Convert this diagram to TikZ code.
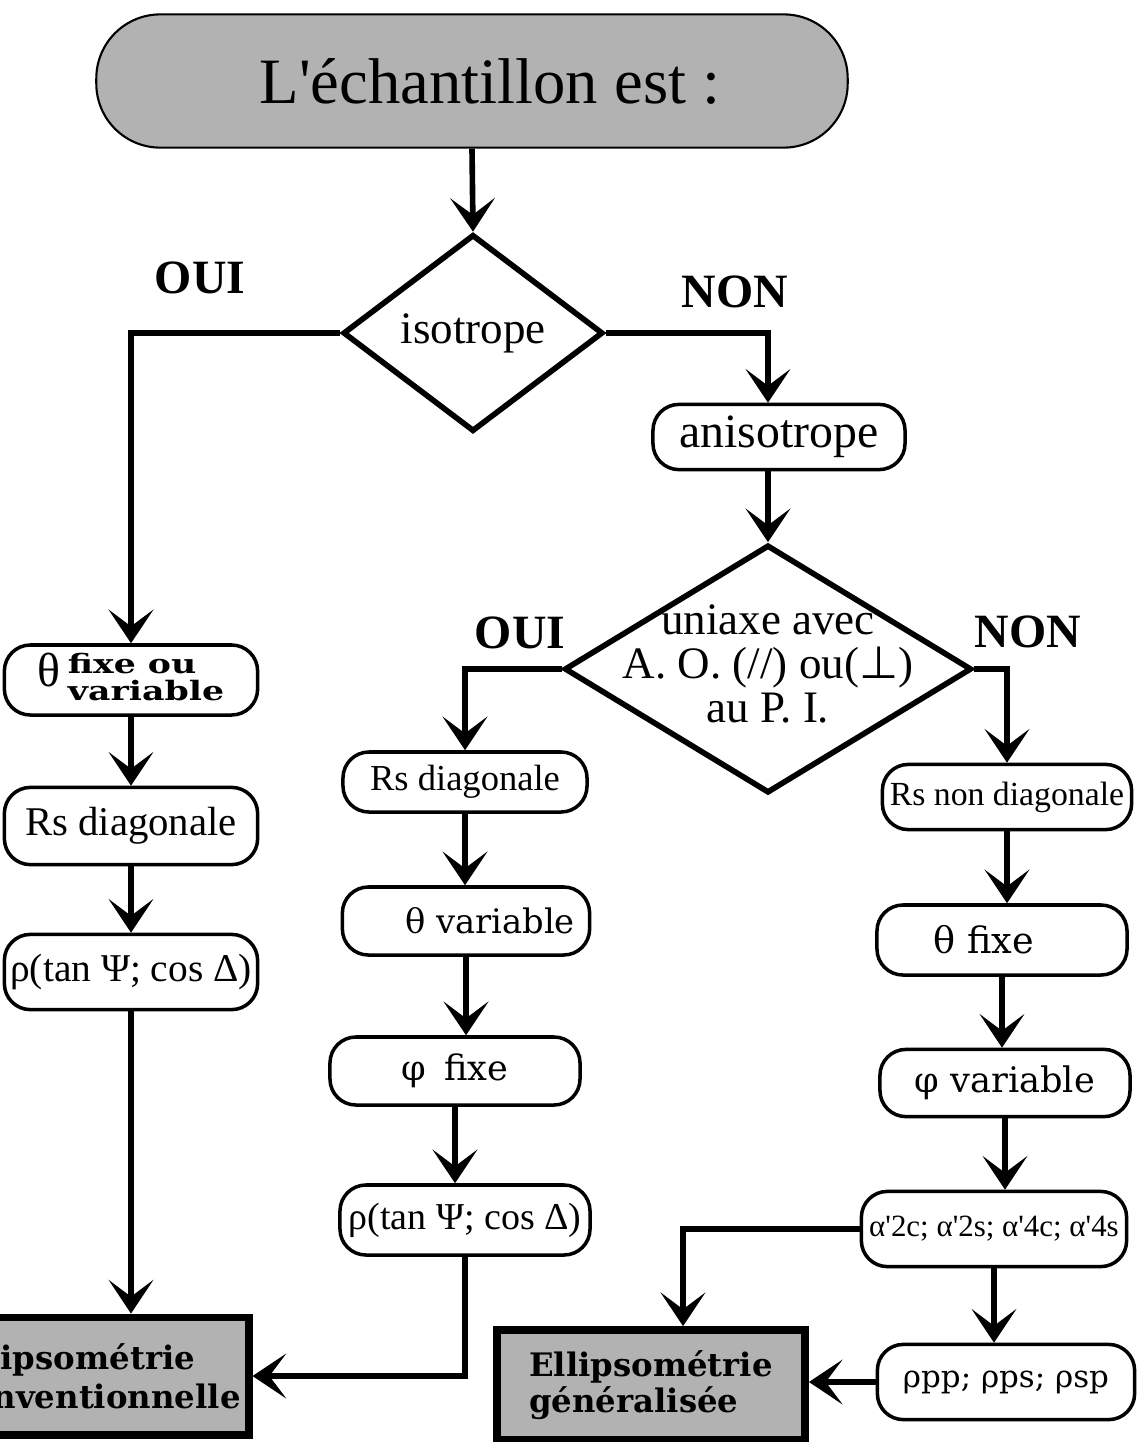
\documentclass[tikz,border=0pt]{standalone}
\usepackage{fontspec}
\setmainfont{Liberation Serif}[Ligatures=TeXOff]
\newfontfamily\bookfont{DejaVu Serif}
\newfontfamily\widefont[FakeStretch=1.3]{DejaVu Serif}
\newfontfamily\symfont{DejaVu Sans}
\usetikzlibrary{arrows.meta,shapes.geometric}

\begin{document}
\begin{tikzpicture}[x=0.025cm, y=-0.025cm,
  box/.style={draw, line width=2.5pt, rounded corners=0.65cm, align=center, inner sep=0pt},
  decision/.style={draw, diamond, line width=4pt, align=center, inner sep=0pt},
  result/.style={draw, line width=5.5pt, fill=black!30, align=left, inner sep=0pt},
  answer/.style={font=\fontsize{34}{36}\selectfont\bfseries},
  flow/.style={line width=4pt, -{Stealth[length=24pt, width=32pt, inset=12pt, line width=1pt]}}]
\useasboundingbox (0,0) rectangle (1137,1442);
\clip (0,0) rectangle (1137,1442);

% Start
\node[draw, line width=1.5pt, fill=black!30, rounded corners=1.6cm, minimum width=18.78cm, minimum height=3.33cm,
  font=\fontsize{46}{50}\selectfont] (ech) at (472,81) {\hspace*{0.9cm}L'échantillon est :};

% First test
\node[decision, minimum width=6.5cm, minimum height=4.925cm, font=\fontsize{32}{34}\selectfont] (iso) at (473,333) {isotrope};
\node[answer] (oui1) at (200,278) {OUI};
\node[answer] (non1) at (735,292) {NON};
\node[box, minimum width=6.3cm, minimum height=1.63cm, font=\fontsize{34}{36}\selectfont] (aniso) at (779,437) {anisotrope};

% Second test
\node[decision, minimum width=10.18cm, minimum height=6.2cm] (uni) at (768,669) {};
\node[align=center, inner sep=0pt, font=\fontsize{32}{31}\selectfont] (unitxt) at (768,664)
  {uniaxe avec\\A. O. (//) ou({\symfont ⊥})\\au P. I.};
\node[answer] (oui2) at (520,633) {OUI};
\node[answer] (non2) at (1028,632) {NON};

% Isotropic branch
\node[box, minimum width=6.33cm, minimum height=1.75cm] (thetaL) at (131,680)
  {{\fontsize{34}{36}\selectfont θ}\enspace{\widefont\bfseries\fontsize{19}{16}\selectfont\begin{tabular}{@{}l@{}}fixe ou\\variable\end{tabular}}};
\node[box, minimum width=6.33cm, minimum height=1.93cm, font=\fontsize{29}{30}\selectfont] (rsL) at (131,826) {Rs diagonale};
\node[box, minimum width=6.33cm, minimum height=1.88cm, font=\fontsize{28}{30}\selectfont] (rhoL) at (131,972) {ρ(tan Ψ; cos Δ)};
\node[result, minimum width=7.63cm, minimum height=2.93cm, font=\bookfont\bfseries\fontsize{23}{28}\selectfont] (conv) at (96,1376)
  {Ellipsométrie\\conventionnelle};

% Uniaxial branch
\node[box, minimum width=6.1cm, minimum height=1.5cm, font=\fontsize{26}{28}\selectfont] (rsM) at (465,782) {Rs diagonale};
\node[box, minimum width=6.18cm, minimum height=1.7cm, font=\bookfont\fontsize{24}{26}\selectfont] (thM) at (466,921) {\hspace*{1.2cm}θ variable};
\node[box, minimum width=6.25cm, minimum height=1.7cm, font=\bookfont\fontsize{25}{26}\selectfont] (phM) at (455,1071) {φ\enspace fixe};
\node[box, minimum width=6.25cm, minimum height=1.75cm, font=\fontsize{27}{28}\selectfont] (rhoM) at (465,1220) {ρ(tan Ψ; cos Δ)};

% General branch
\node[box, minimum width=6.23cm, minimum height=1.63cm, font=\fontsize{24}{26}\selectfont] (rsR) at (1007,797) {Rs non diagonale};
\node[box, minimum width=6.25cm, minimum height=1.75cm, font=\bookfont\fontsize{26}{28}\selectfont] (thR) at (1002,940) {θ fixe\hspace*{0.9cm}};
\node[box, minimum width=6.25cm, minimum height=1.68cm, font=\bookfont\fontsize{25}{26}\selectfont] (phR) at (1005,1083) {φ variable};
\node[box, minimum width=6.63cm, minimum height=1.88cm, font=\fontsize{22}{24}\selectfont] (alR) at (994,1229) {α'2c; α'2s; α'4c; α'4s};
\node[box, minimum width=6.43cm, minimum height=1.88cm, font=\bookfont\fontsize{22}{24}\selectfont] (rhoR) at (1006,1382) {ρpp; ρps; ρsp};
\node[result, minimum width=7.7cm, minimum height=2.75cm, font=\bookfont\bfseries\fontsize{23}{26}\selectfont] (gen) at (651,1385)
  {Ellipsométrie\\généralisée};

% Connectors
\draw[flow] (ech.south) -- (iso.north);
\draw[flow] (iso.west) -| (thetaL.north);
\draw[flow] (iso.east) -| (uni.north |- aniso.north);
\draw[flow] (uni.north |- aniso.south) -- (uni.north);
\draw[flow] (uni.west) -| (rsM.north);
\draw[flow] (uni.east) -| (rsR.north);

\draw[flow] (thetaL.south) -- (rsL.north);
\draw[flow] (rsL.south) -- (rhoL.north);
\draw[flow] (rhoL.south) -- (rhoL.south |- conv.north);

\draw[flow] (rsM.south) -- (rsM.south |- thM.north);
\draw[flow] (thM.south) -- (thM.south |- phM.north);
\draw[flow] (phM.south) -- (phM.south |- rhoM.north);
\draw[flow] (rhoM.south) |- (conv.east);

\draw[flow] (rsR.south) -- (rsR.south |- thR.north);
\draw[flow] (thR.south) -- (thR.south |- phR.north);
\draw[flow] (phR.south) -- (phR.south |- alR.north);
\draw[flow] (alR.south) -- (alR.south |- rhoR.north);
\draw[flow] (alR.west) -| ([xshift=0.8cm]gen.north);
\draw[flow] (rhoR.west) -- (rhoR.west -| gen.east);

\end{tikzpicture}
\end{document}
